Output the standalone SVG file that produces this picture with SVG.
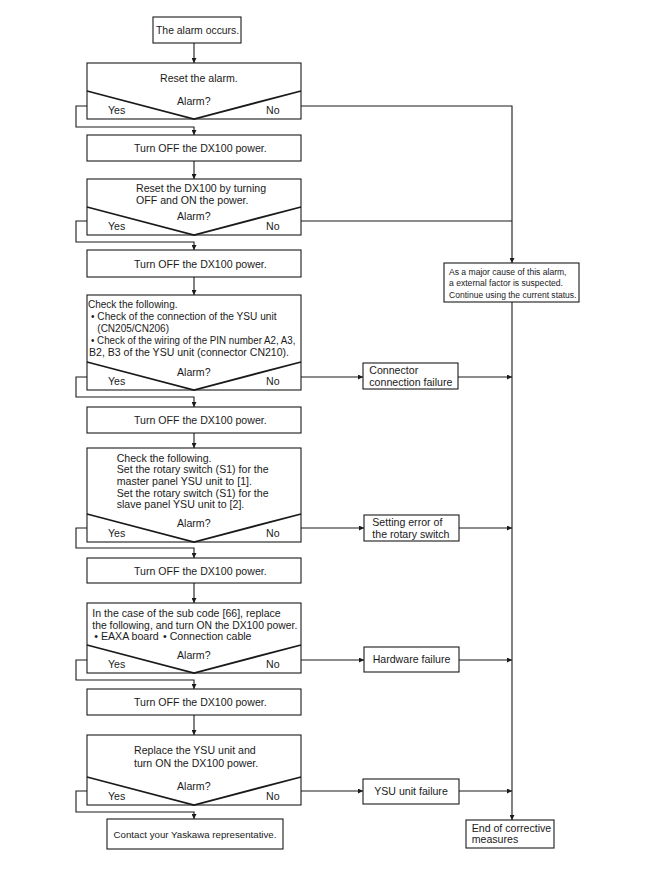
<svg xmlns="http://www.w3.org/2000/svg" width="652" height="875" viewBox="0 0 652 875">
<style>
text{font-family:"Liberation Sans",Arial,sans-serif;font-size:10.6px;fill:#1a1a1a}
.box{fill:#fff;stroke:#1a1a1a;stroke-width:1.1}
.v{fill:none;stroke:#1a1a1a;stroke-width:1.8}
.c{fill:none;stroke:#1a1a1a;stroke-width:1.1}
.a{marker-end:url(#ah)}
.m{text-anchor:middle}
.s{font-size:10px}
</style>
<defs>
<marker id="ah" markerWidth="5" markerHeight="5" refX="5" refY="2.5" orient="auto" markerUnits="userSpaceOnUse">
<path d="M0,0 L5,2.5 L0,5 z" fill="#1a1a1a"/>
</marker>
</defs>
<rect width="652" height="875" fill="#fff"/>

<g id="connectors">
<path class="c a" d="M194,43 V63"/>
<path class="c a" d="M194,161 V179"/>
<path class="c a" d="M194,277 V295"/>
<path class="c a" d="M194,433 V448"/>
<path class="c a" d="M194,583 V603"/>
<path class="c a" d="M194,715 V735"/>
<path class="c a" d="M87,106 H76 V127 H194 V135"/>
<path class="c a" d="M87,221 H76 V242 H194 V250"/>
<path class="c a" d="M87,377 H76 V397 H194 V407"/>
<path class="c a" d="M87,528 H76 V548 H194 V558"/>
<path class="c a" d="M87,660 H76 V680 H194 V689"/>
<path class="c a" d="M87,791 H76 V812 H194 V819"/>
<path class="c a" d="M301,106 H512 V263"/>
<path class="c" d="M301,221 H512"/>
<path class="c a" d="M512,302 V820"/>
<path class="c a" d="M301,377 H363"/>
<path class="c a" d="M458,377 H512"/>
<path class="c a" d="M301,528 H364"/>
<path class="c a" d="M459,528 H512"/>
<path class="c a" d="M301,660 H364"/>
<path class="c a" d="M459,660 H512"/>
<path class="c a" d="M301,791 H363"/>
<path class="c a" d="M459,791 H512"/>
</g>

<g id="start">
<rect class="box" x="153" y="17" width="88" height="26"/>
<text x="156" y="34" style="font-size:10.4px">The alarm occurs.</text>
</g>

<g id="reset-alarm">
<rect class="box" x="87" y="63" width="214" height="56"/>
<path class="v" d="M87,91 L194,119 L301,91"/>
<text x="160" y="82">Reset the alarm.</text>
<text x="177" y="105">Alarm?</text>
<text x="108" y="114">Yes</text>
<text x="266" y="114">No</text>
</g>

<g id="off1">
<rect class="box" x="87" y="135" width="214" height="26"/>
<text x="134" y="152">Turn OFF the DX100 power.</text>
</g>

<g id="reset-dx100">
<rect class="box" x="87" y="179" width="214" height="56"/>
<path class="v" d="M87,207 L194,235 L301,207"/>
<text x="136" y="192">Reset the DX100 by turning</text>
<text x="136" y="204">OFF and ON the power.</text>
<text x="177" y="220">Alarm?</text>
<text x="108" y="230">Yes</text>
<text x="266" y="230">No</text>
</g>

<g id="off2">
<rect class="box" x="87" y="250" width="214" height="27"/>
<text x="134" y="267.5">Turn OFF the DX100 power.</text>
</g>

<g id="check-connection">
<rect class="box" x="87" y="295" width="214" height="95"/>
<path class="v" d="M87,362 L194,390 L301,362"/>
<text x="88" y="308" class="s">Check the following.</text>
<text x="91" y="320" class="s" textLength="185.5" lengthAdjust="spacingAndGlyphs">• Check of the connection of the YSU unit</text>
<text x="97.3" y="332.3" class="s">(CN205/CN206)</text>
<text x="91" y="344.3" class="s" textLength="204.5" lengthAdjust="spacingAndGlyphs">• Check of the wiring of the PIN number A2, A3,</text>
<text x="89" y="356" class="s" textLength="200" lengthAdjust="spacingAndGlyphs">B2, B3 of the YSU unit (connector CN210).</text>
<text x="177" y="376">Alarm?</text>
<text x="108" y="385">Yes</text>
<text x="266" y="385">No</text>
</g>

<g id="off3">
<rect class="box" x="87" y="407" width="214" height="26"/>
<text x="134" y="424">Turn OFF the DX100 power.</text>
</g>

<g id="check-rotary">
<rect class="box" x="87" y="448" width="214" height="94"/>
<path class="v" d="M87,514 L194,542 L301,514"/>
<text x="116.7" y="461.7">Check the following.</text>
<text x="116.7" y="473.3">Set the rotary switch (S1) for the</text>
<text x="116.7" y="485">master panel YSU unit to [1].</text>
<text x="116.7" y="496.7">Set the rotary switch (S1) for the</text>
<text x="116.7" y="508.3">slave panel YSU unit to [2].</text>
<text x="177" y="527">Alarm?</text>
<text x="108" y="537">Yes</text>
<text x="266" y="537">No</text>
</g>

<g id="off4">
<rect class="box" x="87" y="558" width="214" height="25"/>
<text x="134" y="575">Turn OFF the DX100 power.</text>
</g>

<g id="replace-eaxa">
<rect class="box" x="87" y="603" width="214" height="70"/>
<path class="v" d="M87,645 L194,673 L301,645"/>
<text x="92.3" y="617.3">In the case of the sub code [66], replace</text>
<text x="92.3" y="628.7" textLength="205" lengthAdjust="spacingAndGlyphs">the following, and turn ON the DX100 power.</text>
<text x="94.3" y="640.3">• EAXA board</text>
<text x="163" y="640.3">• Connection cable</text>
<text x="177" y="658.5">Alarm?</text>
<text x="108" y="668">Yes</text>
<text x="266" y="668">No</text>
</g>

<g id="off5">
<rect class="box" x="87" y="689" width="214" height="26"/>
<text x="134" y="705.5">Turn OFF the DX100 power.</text>
</g>

<g id="replace-ysu">
<rect class="box" x="87" y="735" width="214" height="70"/>
<path class="v" d="M87,777 L194,805 L301,777"/>
<text x="134" y="754.3">Replace the YSU unit and</text>
<text x="134" y="766.7">turn ON the DX100 power.</text>
<text x="177" y="790">Alarm?</text>
<text x="108" y="800">Yes</text>
<text x="266" y="800">No</text>
</g>

<g id="contact">
<rect class="box" x="107" y="819" width="176" height="30"/>
<text x="195" y="837.5" class="m" style="font-size:9.7px">Contact your Yaskawa representative.</text>
</g>

<g id="external">
<rect class="box" x="444" y="263" width="135" height="39"/>
<text x="449" y="275" style="font-size:9.6px" textLength="117.5" lengthAdjust="spacingAndGlyphs">As a major cause of this alarm,</text>
<text x="449" y="286" style="font-size:9.6px" textLength="114" lengthAdjust="spacingAndGlyphs">a external factor is suspected.</text>
<text x="449" y="297.5" style="font-size:9.6px" textLength="127.5" lengthAdjust="spacingAndGlyphs">Continue using the current status.</text>
</g>

<g id="connector-failure">
<rect class="box" x="363" y="363" width="95" height="26"/>
<text x="369.3" y="374">Connector</text>
<text x="369.3" y="385.7">connection failure</text>
</g>

<g id="setting-error">
<rect class="box" x="364" y="515" width="95" height="26"/>
<text x="372.3" y="526">Setting error of</text>
<text x="372.3" y="537.7">the rotary switch</text>
</g>

<g id="hardware-failure">
<rect class="box" x="364" y="647" width="95" height="25"/>
<text x="411.5" y="663" class="m">Hardware failure</text>
</g>

<g id="ysu-failure">
<rect class="box" x="363" y="779" width="96" height="25"/>
<text x="411" y="795" class="m">YSU unit failure</text>
</g>

<g id="end">
<rect class="box" x="466" y="820" width="88" height="28"/>
<text x="471.7" y="831.7">End of corrective</text>
<text x="471.7" y="843.3">measures</text>
</g>
</svg>
